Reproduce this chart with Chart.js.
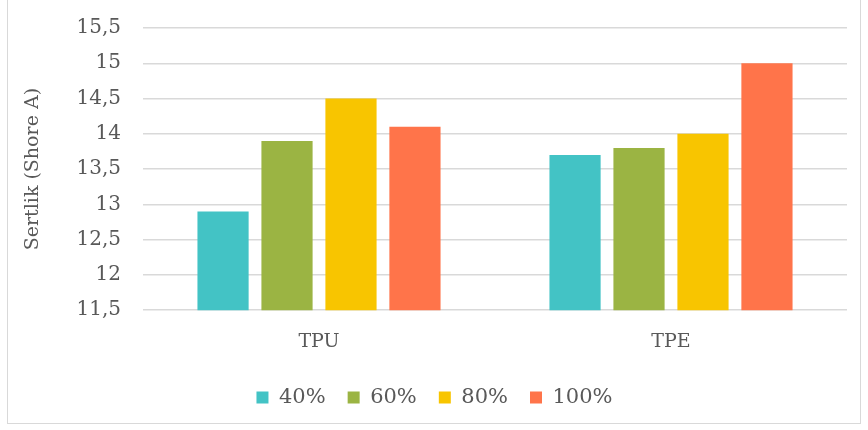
<!DOCTYPE html>
<html>
<head>
<meta charset="utf-8">
<script src="https://cdn.jsdelivr.net/npm/chart.js@4"></script>
<style>
  html, body { margin: 0; padding: 0; background: #fff; }
  #wrap { position: relative; width: 868px; height: 430px; }
  #frame { position: absolute; left: 7px; top: -1px; width: 854px; height: 425px; border: 1px solid #D9D9D9; box-sizing: border-box; pointer-events: none; }
</style>
</head>
<body>
<div id="wrap">
  <canvas id="chart" width="868" height="430"></canvas>
  <div id="frame"></div>
</div>
<script>
// data
const categories = ['TPU', 'TPE'];
const seriesNames = ['40%', '60%', '80%', '100%'];
const v40  = [12.9, 13.7];
const v60  = [13.9, 13.8];
const v80  = [14.5, 14.0];
const v100 = [14.1, 15.0];
const colors = ['#43C3C5', '#9BB443', '#F8C500', '#FF744A'];

const FONT = "'DejaVu Serif', 'Liberation Serif', serif";
Chart.defaults.font.family = FONT;
Chart.defaults.color = '#595959';

const seriesVals = [v40, v60, v80, v100];

new Chart(document.getElementById('chart'), {
  type: 'bar',
  data: {
    labels: categories,
    datasets: seriesNames.map((name, i) => ({
      label: name,
      data: seriesVals[i],
      backgroundColor: colors[i],
      borderWidth: 0,
      categoryPercentage: 0.727,
      barPercentage: 0.8,
    })),
  },
  options: {
    responsive: false,
    animation: false,
    layout: { padding: { left: 22, right: 21, top: 28, bottom: 12 } },
    plugins: {
      tooltip: { enabled: false },
      legend: {
        position: 'bottom',
        labels: { boxWidth: 12, boxHeight: 12, padding: 22, font: { size: 21 }, color: '#595959' },
      },
    },
    scales: {
      x: {
        grid: { display: false },
        border: { display: false },
        ticks: { font: { size: 19 }, padding: 12, color: '#595959' },
      },
      y: {
        min: 11.5,
        max: 15.5,
        afterFit: s => { s.width = 121; },
        // invisible tick marks give the gap between labels and plot
        grid: { color: '#D9D9D9', lineWidth: 1.5, drawTicks: true, tickLength: 22, tickColor: 'rgba(0,0,0,0)' },
        border: { display: false },
        ticks: {
          stepSize: 0.5,
          padding: 0,
          font: { size: 20 },
          color: '#595959',
          callback: v => String(v).replace('.', ','),
        },
        title: { display: true, text: 'Sertlik (Shore A)', font: { size: 19 }, color: '#595959', padding: 0 },
      },
    },
  },
});
</script>
</body>
</html>
